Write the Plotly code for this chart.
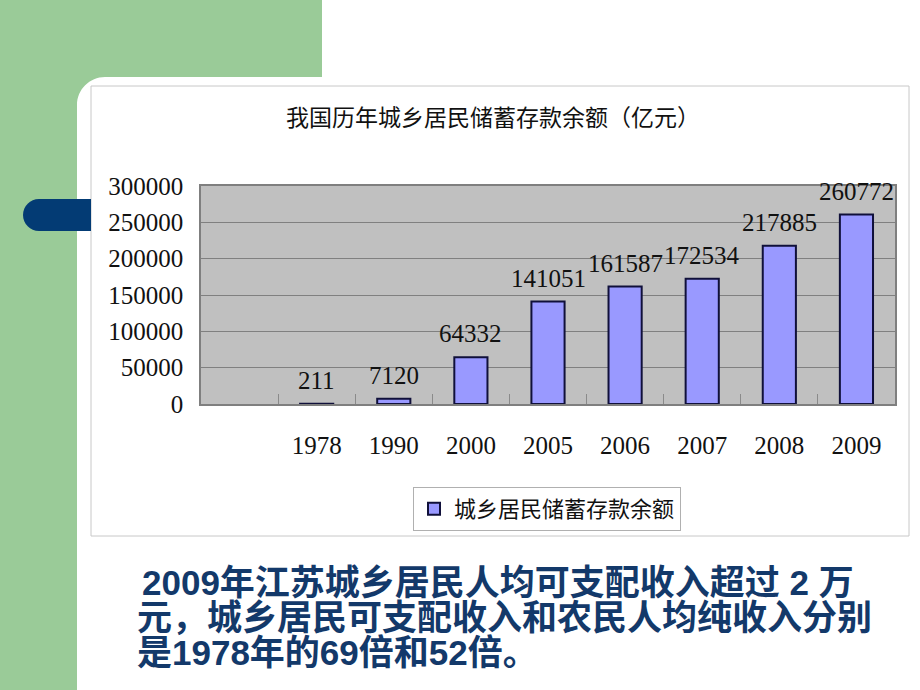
import plotly.graph_objects as go

# ---------------- data ----------------
categories = [" ", "1978", "1990", "2000", "2005", "2006", "2007", "2008", "2009"]
values = [None, 211, 7120, 64332, 141051, 161587, 172534, 217885, 260772]
series_name = "城乡居民储蓄存款余额"
chart_title = "我国历年城乡居民储蓄存款余额（亿元）"
y_ticks = [0, 50000, 100000, 150000, 200000, 250000, 300000]
note_lines = [
    "2009年江苏城乡居民人均可支配收入超过 2 万",
    "元，城乡居民可支配收入和农民人均纯收入分别",
    "是1978年的69倍和52倍。",
]

W, H = 920, 690


def px(x):
    return x / W


def py(y):
    return 1 - y / H


SERIF = "Liberation Serif, Noto Sans CJK SC, serif"
CJK = "Noto Sans CJK SC, sans-serif"

fig = go.Figure()
fig.add_trace(go.Bar(
    x=categories, y=values, name=series_name,
    marker=dict(color="#9999FF", line=dict(color="#10103a", width=2)),
    width=0.43, showlegend=True,
))

# value labels above bars (x given as category serial number)
annotations = []
for i, v in enumerate(values):
    if v is None:
        continue
    annotations.append(dict(
        x=i, y=v, xref="x", yref="y", text=str(v), showarrow=False,
        yanchor="bottom", yshift=8,
        font=dict(family=SERIF, size=25, color="#111111"),
    ))

# chart title
annotations.append(dict(
    x=px(493), y=py(119), xref="paper", yref="paper", text=chart_title,
    showarrow=False, xanchor="center", yanchor="middle",
    font=dict(family=SERIF, size=23, color="#111111"),
))

# bottom note text
note_pos = [(140, 582), (135, 617), (135, 652)]
for line, (lx, ly) in zip(note_lines, note_pos):
    annotations.append(dict(
        x=px(lx), y=py(ly), xref="paper", yref="paper", text="<b>" + line + "</b>",
        showarrow=False, xanchor="left", yanchor="middle",
        font=dict(family="Liberation Sans, Noto Sans CJK SC, sans-serif", size=35, color="#13396A"),
    ))

shapes = []
green = "#9ACB98"
# green L-shaped background
shapes.append(dict(type="rect", xref="paper", yref="paper", x0=px(0), x1=px(322), y0=py(0), y1=py(77),
                   fillcolor=green, line=dict(width=0), layer="below"))
shapes.append(dict(type="rect", xref="paper", yref="paper", x0=px(0), x1=px(77), y0=py(0), y1=py(H),
                   fillcolor=green, line=dict(width=0), layer="below"))
# rounded corner fill
r = 28
k = 0.552 * r
corner = (f"M {px(77)},{py(77)} L {px(77 + r)},{py(77)} "
          f"C {px(77 + r - k)},{py(77)} {px(77)},{py(77 + r - k)} {px(77)},{py(77 + r)} Z")
shapes.append(dict(type="path", xref="paper", yref="paper", path=corner,
                   fillcolor=green, line=dict(width=0), layer="below"))
# chart frame
shapes.append(dict(type="rect", xref="paper", yref="paper", x0=px(91), x1=px(909), y0=py(86), y1=py(536),
                   fillcolor="rgba(0,0,0,0)", line=dict(color="#C8C8C8", width=1), layer="below"))
# dark blue tab
tr = 16
tab = (f"M {px(91)},{py(199)} L {px(23 + tr)},{py(199)} "
       f"C {px(23 + tr - 0.552 * tr)},{py(199)} {px(23)},{py(215 - 0.552 * tr)} {px(23)},{py(215)} "
       f"C {px(23)},{py(215 + 0.552 * tr)} {px(23 + tr - 0.552 * tr)},{py(231)} {px(23 + tr)},{py(231)} "
       f"L {px(91)},{py(231)} Z")
shapes.append(dict(type="path", xref="paper", yref="paper", path=tab,
                   fillcolor="#033B74", line=dict(width=0), layer="above"))

fig.update_layout(
    width=W, height=H,
    margin=dict(l=0, r=0, t=0, b=0, autoexpand=False),
    paper_bgcolor="white",
    plot_bgcolor="#C0C0C0",
    shapes=shapes,
    annotations=annotations,
    showlegend=True,
    legend=dict(
        x=px(413), y=py(487), xanchor="left", yanchor="top",
        bgcolor="white", bordercolor="#B0B0B0", borderwidth=1,
        font=dict(family=CJK, size=22, color="#111111"),
        itemwidth=30, tracegroupgap=0,
    ),
    xaxis=dict(
        domain=[px(201), px(895)],
        type="category", categoryorder="array", categoryarray=categories,
        range=[-0.5, len(categories) - 0.5], autorange=False,
        showgrid=False, showline=True, linecolor="#7F7F7F", linewidth=1.5, mirror=True,
        ticks="inside", tickson="boundaries", ticklen=10, tickcolor="#8A8A8A",
        tickfont=dict(family=SERIF, size=25, color="#111111"),
        ticklabelstandoff=18, zeroline=False, fixedrange=True, automargin=False,
    ),
    yaxis=dict(
        domain=[py(404), py(186)],
        range=[0, 300000], autorange=False, tickvals=y_ticks, ticktext=[str(t) for t in y_ticks],
        showgrid=True, gridcolor="#808080", gridwidth=1,
        showline=True, linecolor="#7F7F7F", linewidth=1.5, mirror=True,
        ticks="", tickfont=dict(family=SERIF, size=25, color="#111111"),
        ticklabelstandoff=11, zeroline=False, fixedrange=True, automargin=False,
    ),
)

fig.write_html("out.html")
